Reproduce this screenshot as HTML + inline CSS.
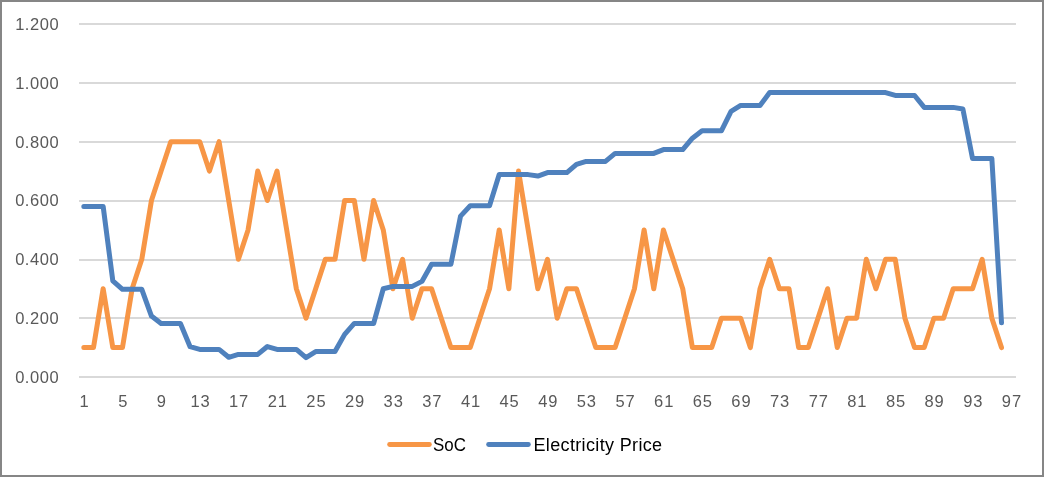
<!DOCTYPE html>
<html><head><meta charset="utf-8"><style>
html,body{margin:0;padding:0;background:#fff;}
body{width:1044px;height:477px;overflow:hidden;position:relative;}
.frame{position:absolute;left:0;top:0;width:1040px;height:473px;border:2px solid #868686;background:#fff;}
svg{position:absolute;left:0;top:0;will-change:transform;}
text{font-family:"Liberation Sans",sans-serif;}
</style></head><body>
<div class="frame"></div>
<svg width="1044" height="477" viewBox="0 0 1044 477">
<g fill="#D9D9D9" shape-rendering="crispEdges"><rect x="79" y="23" width="937" height="2"/><rect x="79" y="82" width="937" height="2"/><rect x="79" y="141" width="937" height="2"/><rect x="79" y="200" width="937" height="2"/><rect x="79" y="259" width="937" height="2"/><rect x="79" y="317" width="937" height="2"/><rect x="79" y="376" width="937" height="2"/></g>
<g fill="#595959" font-size="16.5" letter-spacing="0.55" text-anchor="end"><text x="59.2" y="382.90">0.000</text><text x="59.2" y="324.07">0.200</text><text x="59.2" y="265.23">0.400</text><text x="59.2" y="206.40">0.600</text><text x="59.2" y="147.57">0.800</text><text x="59.2" y="88.73">1.000</text><text x="59.2" y="29.90">1.200</text></g>
<g fill="#595959" font-size="16.5" letter-spacing="0.9" text-anchor="middle"><text x="84.58" y="406.8">1</text><text x="123.22" y="406.8">5</text><text x="161.86" y="406.8">9</text><text x="200.50" y="406.8">13</text><text x="239.14" y="406.8">17</text><text x="277.78" y="406.8">21</text><text x="316.41" y="406.8">25</text><text x="355.05" y="406.8">29</text><text x="393.69" y="406.8">33</text><text x="432.33" y="406.8">37</text><text x="470.97" y="406.8">41</text><text x="509.61" y="406.8">45</text><text x="548.25" y="406.8">49</text><text x="586.89" y="406.8">53</text><text x="625.53" y="406.8">57</text><text x="664.17" y="406.8">61</text><text x="702.81" y="406.8">65</text><text x="741.45" y="406.8">69</text><text x="780.09" y="406.8">73</text><text x="818.72" y="406.8">77</text><text x="857.36" y="406.8">81</text><text x="896.00" y="406.8">85</text><text x="934.64" y="406.8">89</text><text x="973.28" y="406.8">93</text><text x="1011.92" y="406.8">97</text></g>
<path d="M83.83,347.58 L93.49,347.58 L103.15,288.75 L112.81,347.58 L122.47,347.58 L132.13,288.75 L141.79,259.33 L151.45,200.50 L161.11,171.08 L170.77,141.67 L180.43,141.67 L190.09,141.67 L199.75,141.67 L209.41,171.08 L219.07,141.67 L228.73,200.50 L238.39,259.33 L248.05,229.92 L257.71,171.08 L267.37,200.50 L277.03,171.08 L286.69,229.92 L296.35,288.75 L306.01,318.17 L315.66,288.75 L325.32,259.33 L334.98,259.33 L344.64,200.50 L354.30,200.50 L363.96,259.33 L373.62,200.50 L383.28,229.92 L392.94,288.75 L402.60,259.33 L412.26,318.17 L421.92,288.75 L431.58,288.75 L441.24,318.17 L450.90,347.58 L460.56,347.58 L470.22,347.58 L479.88,318.17 L489.54,288.75 L499.20,229.92 L508.86,288.75 L518.52,171.08 L528.18,229.92 L537.84,288.75 L547.50,259.33 L557.16,318.17 L566.82,288.75 L576.48,288.75 L586.14,318.17 L595.80,347.58 L605.46,347.58 L615.12,347.58 L624.78,318.17 L634.44,288.75 L644.10,229.92 L653.76,288.75 L663.42,229.92 L673.08,259.33 L682.74,288.75 L692.40,347.58 L702.06,347.58 L711.72,347.58 L721.38,318.17 L731.04,318.17 L740.70,318.17 L750.36,347.58 L760.02,288.75 L769.68,259.33 L779.34,288.75 L788.99,288.75 L798.65,347.58 L808.31,347.58 L817.97,318.17 L827.63,288.75 L837.29,347.58 L846.95,318.17 L856.61,318.17 L866.27,259.33 L875.93,288.75 L885.59,259.33 L895.25,259.33 L904.91,318.17 L914.57,347.58 L924.23,347.58 L933.89,318.17 L943.55,318.17 L953.21,288.75 L962.87,288.75 L972.53,288.75 L982.19,259.33 L991.85,318.17 L1001.51,347.58" fill="none" stroke="#F79646" stroke-width="5" stroke-linejoin="round" stroke-linecap="round"/>
<path d="M83.83,206.38 L93.49,206.38 L103.15,206.38 L112.81,280.81 L122.47,289.34 L132.13,289.34 L141.79,289.34 L151.45,316.11 L161.11,323.46 L170.77,323.46 L180.43,323.46 L190.09,346.70 L199.75,349.41 L209.41,349.41 L219.07,349.41 L228.73,357.29 L238.39,354.38 L248.05,354.38 L257.71,354.38 L267.37,346.55 L277.03,349.41 L286.69,349.41 L296.35,349.41 L306.01,357.58 L315.66,351.55 L325.32,351.55 L334.98,351.55 L344.64,334.35 L354.30,323.46 L363.96,323.46 L373.62,323.46 L383.28,288.75 L392.94,286.40 L402.60,286.40 L412.26,286.40 L421.92,281.40 L431.58,264.33 L441.24,264.33 L450.90,264.33 L460.56,216.09 L470.22,205.79 L479.88,205.79 L489.54,205.79 L499.20,174.61 L508.86,174.61 L518.52,174.61 L528.18,174.61 L537.84,176.08 L547.50,172.55 L557.16,172.55 L566.82,172.55 L576.48,164.32 L586.14,161.38 L595.80,161.38 L605.46,161.38 L615.12,153.43 L624.78,153.43 L634.44,153.43 L644.10,153.43 L653.76,153.43 L663.42,149.61 L673.08,149.61 L682.74,149.61 L692.40,138.14 L702.06,130.78 L711.72,130.78 L721.38,130.78 L731.04,111.37 L740.70,105.48 L750.36,105.48 L760.02,105.48 L769.68,92.54 L779.34,92.54 L788.99,92.54 L798.65,92.54 L808.31,92.54 L817.97,92.54 L827.63,92.54 L837.29,92.54 L846.95,92.54 L856.61,92.54 L866.27,92.54 L875.93,92.54 L885.59,92.54 L895.25,95.48 L904.91,95.48 L914.57,95.48 L924.23,107.40 L933.89,107.40 L943.55,107.40 L953.21,107.40 L962.87,109.01 L972.53,158.43 L982.19,158.43 L991.85,158.43 L1001.51,322.87" fill="none" stroke="#4F81BD" stroke-width="5" stroke-linejoin="round" stroke-linecap="round"/>
<g stroke-width="4.8" stroke-linecap="round">
<line x1="389.6" y1="444.5" x2="429.4" y2="444.5" stroke="#F79646"/>
<line x1="488.6" y1="444.5" x2="528.4" y2="444.5" stroke="#4F81BD"/>
</g>
<g fill="#000" font-size="18">
<text x="433" y="451" textLength="32.9" lengthAdjust="spacingAndGlyphs">SoC</text>
<text x="533.5" y="451" textLength="128.6" lengthAdjust="spacing">Electricity Price</text>
</g>
</svg>
</body></html>
